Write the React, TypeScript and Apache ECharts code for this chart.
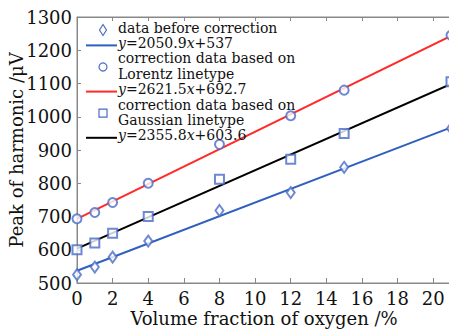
import React, { useEffect, useRef } from "react";
import * as echarts from "echarts";

const xValues = [0, 1, 2, 4, 8, 12, 15, 21];
const beforeValues = [525, 548, 578, 626, 718, 772, 848, 965];
const lorentzValues = [693, 712, 742, 800, 917, 1003, 1080, 1245];
const gaussianValues = [600, 620, 650, 700, 812, 872, 950, 1105];

const fitSlopes = [2050.9, 2621.5, 2355.8];
const fitIntercepts = [537, 692.7, 603.6];
const fitRange = [0, 21];

const scatterNames = [
  "data before correction",
  "correction data based on Lorentz linetype",
  "correction data based on Gaussian linetype",
];
const legendLines = [
  ["data before correction"],
  ["{i|y}=2050.9{i|x}+537"],
  ["correction data based on", "Lorentz linetype"],
  ["{i|y}=2621.5{i|x}+692.7"],
  ["correction data based on", "Gaussian linetype"],
  ["{i|y}=2355.8{i|x}+603.6"],
];
const lineColors = ["#2f5fbf", "#ff2a2a", "#000000"];
const symbolColor = "#4a6cc8";
const symbols = ["emptyDiamond", "emptyCircle", "emptyRect"];
const symbolSizes: any[] = [[8, 11], 9, 9];

const FONT = "DejaVu Serif";

export default function App() {
  const ref = useRef<HTMLDivElement>(null);
  useEffect(() => {
    if (!ref.current) return;
    const chart = echarts.init(ref.current, null, { renderer: "svg" });
    const scatterData = [beforeValues, lorentzValues, gaussianValues];
    const series: any[] = [];
    scatterData.forEach((vals, i) => {
      series.push({
        type: "scatter",
        name: scatterNames[i],
        data: xValues.map((x, k) => [x, vals[k]]),
        symbol: symbols[i],
        symbolSize: symbolSizes[i],
        itemStyle: { color: symbolColor, borderColor: symbolColor, borderWidth: 1.2 },
        z: 3,
      });
      series.push({
        type: "line",
        name: "fit" + i,
        data: fitRange.map((x) => [x, fitIntercepts[i] + (fitSlopes[i] * x) / 100]),
        showSymbol: false,
        symbol: "none",
        lineStyle: { color: lineColors[i], width: 2 },
        itemStyle: { color: lineColors[i] },
        z: 2,
      });
    });

    const lineStep = 15.4;
    const textX = 118;
    const firstY = 27.5;
    const graphics: any[] = [];
    let row = 0;
    const iconX = 103;
    legendLines.forEach((lines, idx) => {
      const startRow = row;
      lines.forEach((t) => {
        graphics.push({
          type: "text",
          x: textX,
          y: firstY + row * lineStep,
          style: {
            text: t,
            fontFamily: FONT,
            fontSize: 14,
            fill: "#111",
            verticalAlign: "middle",
            rich: { i: { fontStyle: "italic", fontFamily: FONT, fontSize: 14 } },
          },
          z: 10,
        });
        row++;
      });
      const cy = firstY + ((startRow + row - 1) / 2) * lineStep;
      const k = Math.floor(idx / 2);
      if (idx % 2 === 1) {
        graphics.push({
          type: "line",
          shape: { x1: 86, y1: cy + 2.5, x2: 117, y2: cy + 2.5 },
          style: { stroke: lineColors[k], lineWidth: 2 },
          z: 10,
        });
      } else if (k === 0) {
        graphics.push({
          type: "polygon",
          shape: { points: [[iconX, cy - 3], [iconX + 3.5, cy + 2.5], [iconX, cy + 8], [iconX - 3.5, cy + 2.5]] },
          style: { fill: "none", stroke: symbolColor, lineWidth: 1.2 },
          z: 10,
        });
      } else if (k === 1) {
        graphics.push({
          type: "circle",
          shape: { cx: iconX, cy: cy + 1, r: 4 },
          style: { fill: "none", stroke: symbolColor, lineWidth: 1.2 },
          z: 10,
        });
      } else {
        graphics.push({
          type: "rect",
          shape: { x: iconX - 4, y: cy - 3, width: 8, height: 8 },
          style: { fill: "none", stroke: symbolColor, lineWidth: 1.2 },
          z: 10,
        });
      }
    });

    const hide21 = (v: number) => (v > 20 ? "" : String(v));

    chart.setOption({
      animation: false,
      backgroundColor: "#ffffff",
      textStyle: { fontFamily: FONT },
      grid: {
        left: 77,
        top: 17,
        right: -2,
        bottom: 50,
        show: true,
        borderColor: "#888888",
        borderWidth: 1,
        containLabel: false,
        outerBoundsMode: "none",
      },
      graphic: graphics,
      xAxis: [
        {
          type: "value",
          min: 0,
          max: 21,
          interval: 2,
          name: "Volume fraction of oxygen /%",
          nameLocation: "middle",
          nameGap: 26,
          nameMoveOverlap: false,
          nameTextStyle: { fontFamily: FONT, fontSize: 18, color: "#111" },
          axisLine: { show: true, lineStyle: { color: "#888" } },
          axisTick: { show: true, inside: true, length: 5, lineStyle: { color: "#888" } },
          axisLabel: {
            fontFamily: FONT,
            fontSize: 18,
            color: "#111",
            margin: 6,
            formatter: hide21,
          },
          splitLine: { show: false },
        },
        {
          type: "value",
          position: "top",
          min: 0,
          max: 21,
          interval: 2,
          axisLine: { show: true, lineStyle: { color: "#888" } },
          axisTick: { show: true, inside: true, length: 4, lineStyle: { color: "#888" } },
          axisLabel: { show: false },
          splitLine: { show: false },
        },
      ],
      yAxis: {
        type: "value",
        min: 500,
        max: 1300,
        interval: 100,
        name: "Peak of harmonic /μV",
        nameLocation: "middle",
        nameGap: 52,
        nameMoveOverlap: false,
        nameTextStyle: { fontFamily: FONT, fontSize: 18, color: "#111" },
        axisLine: { show: true, lineStyle: { color: "#888" } },
        axisTick: { show: true, inside: true, length: 4, lineStyle: { color: "#888" } },
        axisLabel: {
          fontFamily: FONT,
          fontSize: 18,
          color: "#111",
          margin: 5,
          formatter: (v: number) => String(v),
        },
        splitLine: { show: false },
      },
      series,
    });
    return () => chart.dispose();
  }, []);
  return (
    <div
      ref={ref}
      style={{ position: "fixed", left: 0, top: 0, width: 449, height: 333 }}
    />
  );
}
